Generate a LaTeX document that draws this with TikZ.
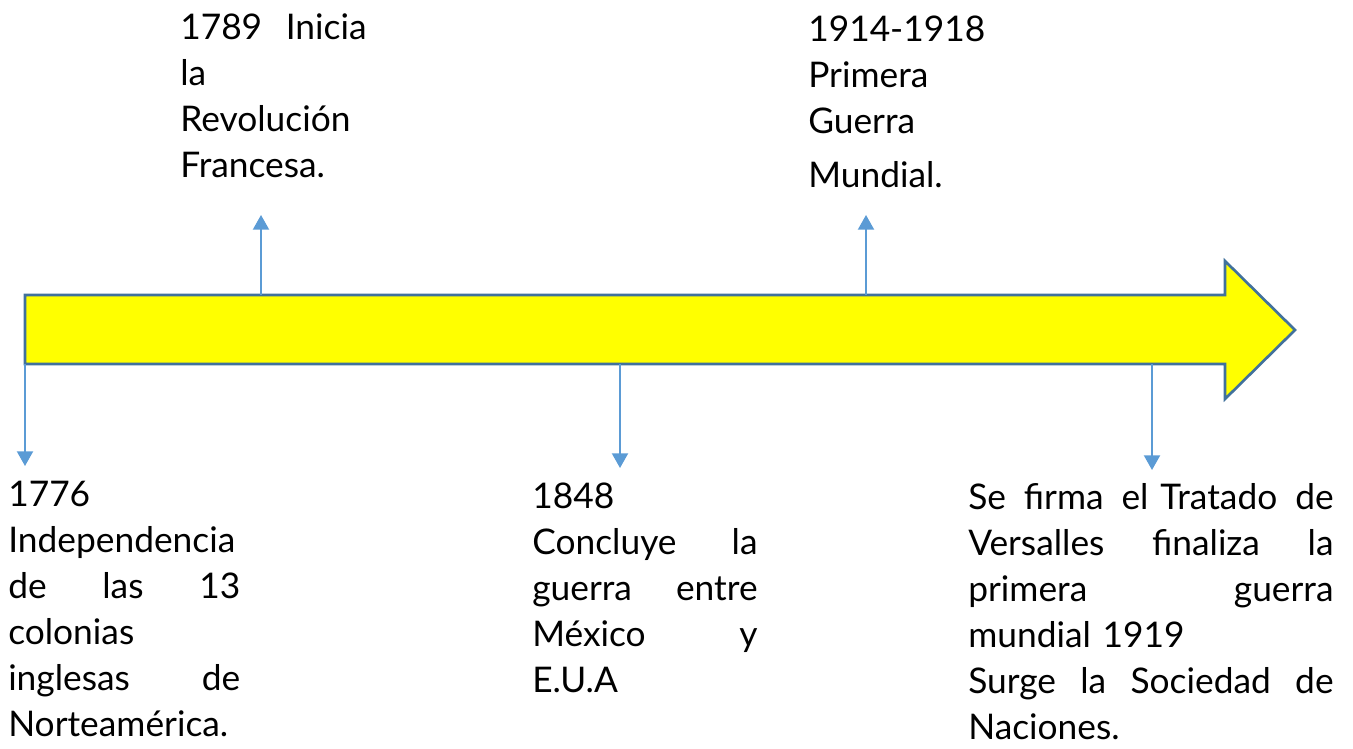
\documentclass[tikz,border=0pt]{standalone}
\usepackage{fontspec}
\setmainfont{Lato}
\usetikzlibrary{arrows.meta}

\definecolor{flechaborde}{HTML}{41719C}
\definecolor{flechafondo}{RGB}{255,255,0}
\definecolor{enlaceazul}{HTML}{5B9BD5}

\tikzset{%
  hito/.style={
    inner sep=0pt,
    anchor=north west,
    align=left,
    font=\fontsize{26.5}{34.5}\selectfont
  },
  enlace/.style={
    draw=enlaceazul,
    line width=1.5pt,
    -{Triangle[width=12pt,length=11pt]}
  },
}

\begin{document}
\begin{tikzpicture}[x=0.75pt,y=-0.75pt]
\useasboundingbox (0,0) rectangle (1353,749);
% flecha de la linea de tiempo
\draw[draw=flechaborde,fill=flechafondo,line width=2pt,line join=miter]
  (25,295) -- (1225,295) -- (1225,261) -- (1295,330) -- (1225,399)
  -- (1225,364) -- (25,364) -- cycle;
\coordinate (a1776) at (25,364);
\coordinate (a1789) at (261,295);
\coordinate (a1848) at (620,364);
\coordinate (a1914) at (866,295);
\coordinate (a1919) at (1152,364);
\coordinate (e1776) at (25,466);
\coordinate (e1789) at (261,215);
\coordinate (e1848) at (620,468);
\coordinate (e1914) at (866,215);
\coordinate (e1919) at (1152,470);

\draw[enlace] (a1776) -- (e1776);
\draw[enlace] (a1789) -- (e1789);
\draw[enlace] (a1848) -- (e1848);
\draw[enlace] (a1914) -- (e1914);
\draw[enlace] (a1919) -- (e1919);

\node[hito,text width=190pt] (t1789) at (180,13)
  {1789\ \ Inicia\\ la\\ Revolución\\ Francesa.};
\node[hito,text width=150pt] (t1914) at (808,16)
  {1914-1918\\ Primera\\ Guerra\\[6pt] Mundial.};
\node[hito,text width=174pt] (t1776) at (8,481)
  {1776\\ Independencia\\ de \hfill las \hfill 13\\ colonias\\
   inglesas \hfill de\\ Norteamérica.};
\node[hito,text width=169pt] (t1848) at (532,483)
  {1848\\ Concluye \hfill la\\ guerra \hfill entre\\ México \hfill y\\ E.U.A};
\node[hito,text width=274pt] (t1919) at (968,483)
  {Se \hfill firma \hfill el Tratado \hfill de\\
   Versalles \hfill finaliza \hfill la\\ primera \hfill guerra\\
   mundial 1919\\ Surge \hfill la \hfill Sociedad \hfill de\\ Naciones.};
\end{tikzpicture}
\end{document}
